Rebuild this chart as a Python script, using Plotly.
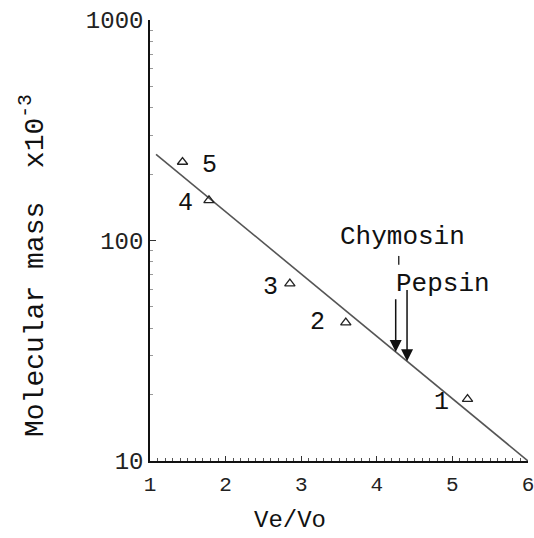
import numpy as np
import plotly.graph_objects as go

# Calibration standards (elution ratio vs molecular mass, kDa)
std_labels = ["1", "2", "3", "4", "5"]
std_vevo = [5.20, 3.59, 2.85, 1.78, 1.43]
std_mass = [19.1, 42.4, 63.8, 152, 227]

# Label positions for each standard number (Ve/Vo, log10 mass)
lbl_vevo = [4.85, 3.22, 2.60, 1.475, 1.79]
lbl_logm = [1.264, 1.627, 1.786, 2.168, 2.341]

# Fitted calibration line end points
fit_vevo = [1.08, 6.0]
fit_mass = [246, 10]

# Enzyme elution positions and arrow tail heights (mass)
enz_names = ["Chymosin", "Pepsin"]
enz_vevo = [4.25, 4.40]
enz_tail_mass = [55, 60.5]
enz_label_vevo = [4.34, 4.88]
enz_label_logm = [2.014, 1.805]

FONT = "Liberation Mono"

def mass_on_line(v):
    lx = np.log10(fit_mass)
    return 10 ** np.interp(v, fit_vevo, lx)

fig = go.Figure()

fig.add_trace(go.Scatter(
    x=fit_vevo, y=fit_mass, mode="lines",
    line=dict(color="#555555", width=1.6), showlegend=False, hoverinfo="skip"))

fig.add_trace(go.Scatter(
    x=std_vevo, y=std_mass, mode="markers",
    marker=dict(symbol="triangle-up-open", size=9, color="#222222",
                line=dict(width=1.3, color="#222222")),
    showlegend=False))

# small dash between the Chymosin label and its arrow
dash_x = [4.29, 4.29]
dash_m = [10 ** 1.93, 10 ** 1.89]
fig.add_trace(go.Scatter(
    x=dash_x, y=dash_m, mode="lines",
    line=dict(color="#333333", width=1.5), showlegend=False, hoverinfo="skip"))

annotations = []
for t, vx, ly in zip(std_labels, lbl_vevo, lbl_logm):
    annotations.append(dict(x=vx, y=ly, xref="x", yref="y", text=t, showarrow=False,
                            font=dict(family=FONT, size=25, color="#111111")))

for name, v, tail, lx, ly in zip(enz_names, enz_vevo, enz_tail_mass,
                                   enz_label_vevo, enz_label_logm):
    head = mass_on_line(v)
    annotations.append(dict(x=v, y=np.log10(head), xref="x", yref="y",
                            ax=v, ay=np.log10(tail), axref="x", ayref="y",
                            text="", showarrow=True, arrowhead=2, arrowsize=1.6,
                            arrowwidth=1.5, arrowcolor="#111111"))
    annotations.append(dict(x=lx, y=ly, xref="x", yref="y", text=name,
                            showarrow=False,
                            font=dict(family=FONT, size=26, color="#111111")))

# axis titles
annotations.append(dict(x=(290 - 150) / 378, y=(461 - 520) / 441, xref="paper", yref="paper",
                        xanchor="center", yanchor="middle",
                        text="Ve/Vo", showarrow=False,
                        font=dict(family=FONT, size=24, color="#111111")))
annotations.append(dict(x=(33 - 150) / 378, y=(461 - 266) / 441, xref="paper", yref="paper",
                        xanchor="center", yanchor="middle",
                        text="Molecular mass  x10<sup>-3</sup>", textangle=-90,
                        showarrow=False,
                        font=dict(family=FONT, size=28, color="#111111")))

fig.update_layout(
    width=534, height=538,
    margin=dict(l=150, r=6, t=20, b=77),
    paper_bgcolor="white", plot_bgcolor="white",
    annotations=annotations,
    xaxis=dict(range=[1, 6], tickvals=[1, 2, 3, 4, 5, 6], automargin=False,
               ticks="inside", ticklen=5, tickwidth=1, tickcolor="#333333",
               showline=True, linecolor="#111111", linewidth=1.5,
               showgrid=False, zeroline=False, ticklabelstandoff=3,
               ticklabeloverflow="allow",
               minor=dict(dtick=0.1, ticks="inside", ticklen=3, tickcolor="#555555"),
               tickfont=dict(family=FONT, size=21, color="#222222")),
    yaxis=dict(type="log", range=[1, 3], tickvals=[10, 100, 1000], automargin=False,
               ticktext=["10", "100", "1000"],
               ticks="inside", ticklen=6, tickwidth=1, tickcolor="#333333",
               showline=True, linecolor="#111111", linewidth=1.5,
               showgrid=False, zeroline=False, ticklabelstandoff=0,
               ticklabeloverflow="allow",
               minor=dict(ticks="inside", ticklen=3, tickcolor="#999999",
                          tickvals=[20, 30, 40, 50, 60, 70, 80, 90,
                                    200, 300, 400, 500, 600, 700, 800, 900]),
               tickfont=dict(family=FONT, size=24, color="#222222")),
)

fig.write_html("out.html")
